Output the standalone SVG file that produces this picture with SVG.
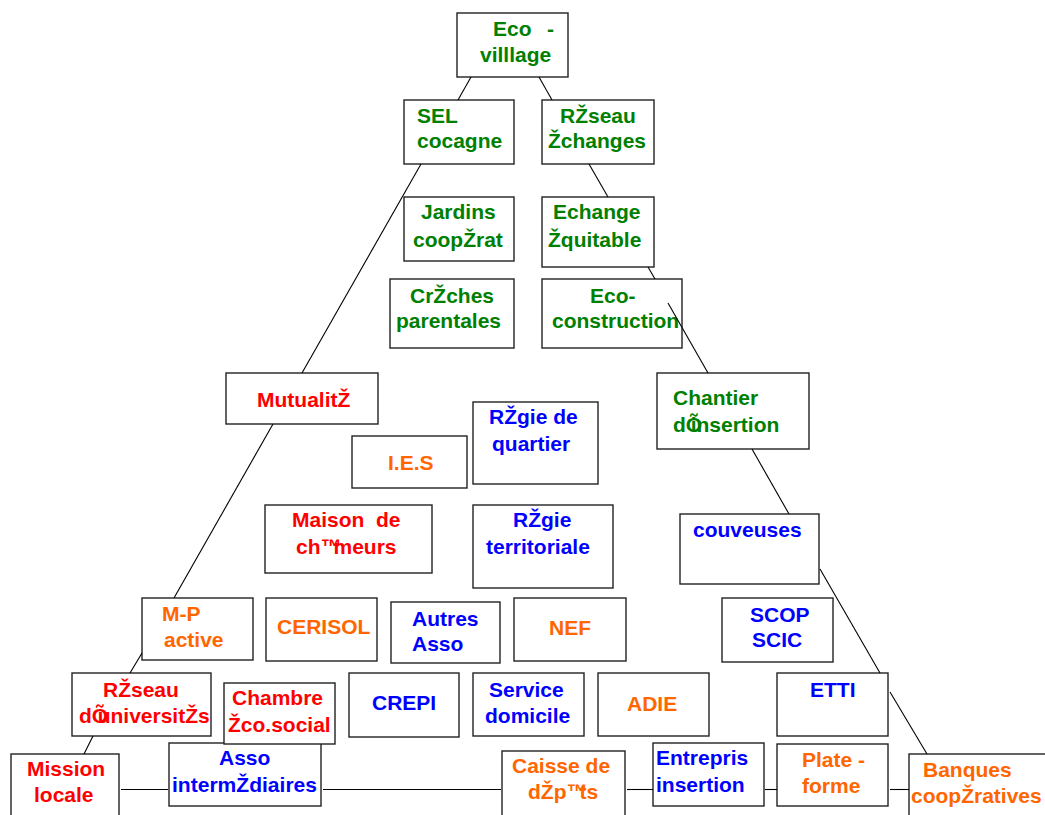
<svg xmlns="http://www.w3.org/2000/svg" width="1045" height="815" viewBox="0 0 1045 815">
<style>
.box{fill:#fff;stroke:#222;stroke-width:1.4}
.t{font-family:"Liberation Sans",Arial,sans-serif;font-weight:bold;font-size:21px}
.g{fill:#008000}.r{fill:#ff0000}.b{fill:#0000ff}.o{fill:#ff6600}
.ln{stroke:#000;stroke-width:1.1;fill:none}
</style>
<rect width="1045" height="815" fill="#fff"/>
<g id="nodes">
<g id="eco-village"><rect class="box" x="457" y="13" width="111" height="64"/><text class="t g" x="493" y="36">Eco<tspan x="547">-</tspan></text><text class="t g" x="480" y="62">villlage</text></g>
<g id="sel-cocagne"><rect class="box" x="404" y="100" width="110" height="64"/><text class="t g" x="417" y="123">SEL</text><text class="t g" x="417" y="148">cocagne</text></g>
<g id="reseau-echanges"><rect class="box" x="542" y="100" width="112" height="64"/><text class="t g" x="560" y="123">RŽseau</text><text class="t g" x="548" y="148">Žchanges</text></g>
<g id="jardins"><rect class="box" x="404" y="197" width="110" height="64"/><text class="t g" x="421" y="219">Jardins</text><text class="t g" x="413" y="247">coopŽrat</text></g>
<g id="echange-equitable"><rect class="box" x="542" y="197" width="112" height="70"/><text class="t g" x="553" y="219">Echange</text><text class="t g" x="548" y="247">Žquitable</text></g>
<g id="creches"><rect class="box" x="390" y="279" width="124" height="69"/><text class="t g" x="410" y="303">CrŽches</text><text class="t g" x="396" y="328">parentales</text></g>
<g id="eco-construction"><rect class="box" x="542" y="279" width="140" height="69"/><text class="t g" x="590" y="303">Eco-</text><text class="t g" x="552" y="328">construction</text></g>
<g id="mutualite"><rect class="box" x="226" y="373" width="152" height="51"/><text class="t r" x="257" y="407">MutualitŽ</text></g>
<g id="chantier"><rect class="box" x="657" y="373" width="152" height="76"/><text class="t g" x="673" y="405" font-size="23">Chantier</text><text class="t g" x="673" y="432" font-size="23" dx="0 0 -11.5">dÕinsertion</text></g>
<g id="ies"><rect class="box" x="352" y="436" width="115" height="52"/><text class="t o" x="388" y="470">I.E.S</text></g>
<g id="regie-quartier"><rect class="box" x="473" y="402" width="125" height="82"/><text class="t b" x="489" y="424">RŽgie de</text><text class="t b" x="492" y="451">quartier</text></g>
<g id="maison-chomeurs"><rect class="box" x="265" y="505" width="167" height="68"/><text class="t r" x="292" y="527" xml:space="preserve">Maison  de</text><text class="t r" x="296" y="554" dx="0 0 0 -8">ch™meurs</text></g>
<g id="regie-territoriale"><rect class="box" x="473" y="505" width="140" height="83"/><text class="t b" x="513" y="527">RŽgie</text><text class="t b" x="486" y="554">territoriale</text></g>
<g id="couveuses"><rect class="box" x="680" y="514" width="139" height="70"/><text class="t b" x="693" y="537">couveuses</text></g>
<g id="mp-active"><rect class="box" x="142" y="598" width="111" height="62"/><text class="t o" x="162" y="621">M-P</text><text class="t o" x="164" y="647">active</text></g>
<g id="cerisol"><rect class="box" x="266" y="598" width="111" height="63"/><text class="t o" x="277" y="634">CERISOL</text></g>
<g id="autres-asso"><rect class="box" x="391" y="602" width="109" height="61"/><text class="t b" x="412" y="626">Autres</text><text class="t b" x="412" y="651">Asso</text></g>
<g id="nef"><rect class="box" x="514" y="598" width="112" height="63"/><text class="t o" x="549" y="635">NEF</text></g>
<g id="scop-scic"><rect class="box" x="722" y="598" width="111" height="64"/><text class="t b" x="750" y="622">SCOP</text><text class="t b" x="752" y="647">SCIC</text></g>
<g id="reseau-universites"><rect class="box" x="72" y="673" width="139" height="63"/><text class="t r" x="103" y="697">RŽseau</text><text class="t r" x="79" y="723" dx="0 0 -10.5">dÕuniversitŽs</text></g>
<g id="crepi"><rect class="box" x="349" y="673" width="110" height="64"/><text class="t b" x="372" y="710">CREPI</text></g>
<g id="service-domicile"><rect class="box" x="473" y="673" width="111" height="63"/><text class="t b" x="489" y="697">Service</text><text class="t b" x="485" y="723">domicile</text></g>
<g id="adie"><rect class="box" x="598" y="673" width="111" height="63"/><text class="t o" x="627" y="711">ADIE</text></g>
<g id="etti"><rect class="box" x="777" y="673" width="111" height="63"/><text class="t b" x="810" y="697">ETTI</text></g>
<g id="asso-intermediaires"><rect class="box" x="169" y="743" width="152" height="63"/><text class="t b" x="219" y="765">Asso</text><text class="t b" x="172" y="792" textLength="145" lengthAdjust="spacingAndGlyphs">intermŽdiaires</text></g>
<g id="chambre"><rect class="box" x="224" y="683" width="111" height="61"/><text class="t r" x="232" y="705">Chambre</text><text class="t r" x="228" y="732">Žco.social</text></g>
<g id="mission-locale"><rect class="box" x="11" y="754" width="108" height="80"/><text class="t r" x="27" y="776">Mission</text><text class="t r" x="34" y="802">locale</text></g>
<g id="caisse-depots"><rect class="box" x="502" y="751" width="123" height="80"/><text class="t o" x="512" y="773">Caisse de</text><text class="t o" x="528" y="799" dx="0 0 0 0 -8">dŽp™ts</text></g>
<g id="entrepris-insertion"><rect class="box" x="653" y="743" width="111" height="63"/><text class="t b" x="656" y="765">Entrepris</text><text class="t b" x="656" y="792">insertion</text></g>
<g id="plate-forme"><rect class="box" x="777" y="744" width="111" height="62"/><text class="t o" x="802" y="767">Plate -</text><text class="t o" x="802" y="793">forme</text></g>
<g id="banques"><rect class="box" x="909" y="754" width="150" height="80"/><text class="t o" x="923" y="777">Banques</text><text class="t o" x="911" y="803">coopŽratives</text></g>
</g>
<g id="connectors">
<line class="ln" x1="471" y1="77" x2="458" y2="100"/>
<line class="ln" x1="539" y1="77" x2="552" y2="100"/>
<line class="ln" x1="421" y1="164" x2="302" y2="373"/>
<line class="ln" x1="589" y1="164" x2="608" y2="197"/>
<line class="ln" x1="648" y1="267" x2="655" y2="279"/>
<line class="ln" x1="668" y1="303" x2="708" y2="373"/>
<line class="ln" x1="752" y1="449" x2="789" y2="514"/>
<line class="ln" x1="820" y1="569" x2="880" y2="673"/>
<line class="ln" x1="890" y1="692" x2="927" y2="754"/>
<line class="ln" x1="273" y1="424" x2="174" y2="598"/>
<line class="ln" x1="142" y1="653" x2="130" y2="673"/>
<line class="ln" x1="93" y1="736" x2="84" y2="754"/>
<line class="ln" x1="121" y1="789.5" x2="168" y2="789.5"/>
<line class="ln" x1="323" y1="789.5" x2="501" y2="789.5"/>
<line class="ln" x1="627" y1="789.5" x2="653" y2="789.5"/>
<line class="ln" x1="765" y1="789.5" x2="777" y2="789.5"/>
<line class="ln" x1="890" y1="789.5" x2="909" y2="789.5"/>
</g>
</svg>
